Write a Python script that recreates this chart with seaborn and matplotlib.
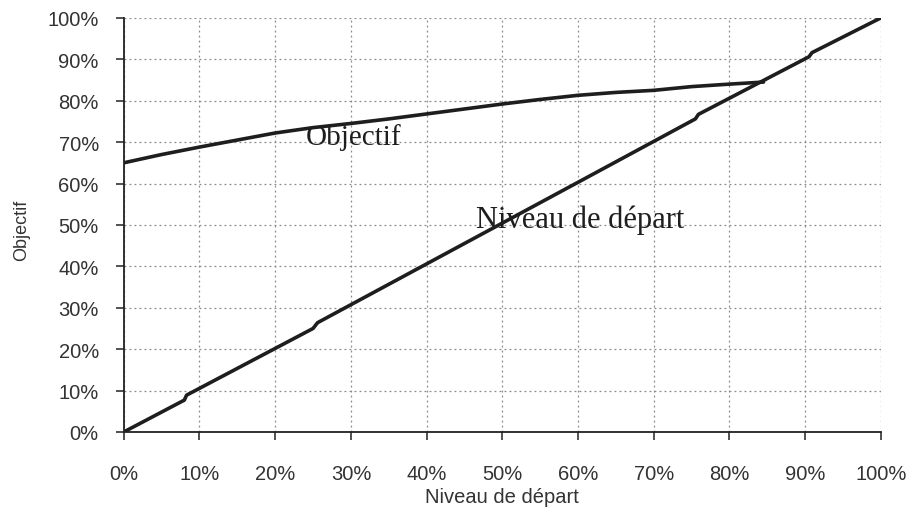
import pandas as pd
import seaborn as sns
import matplotlib.pyplot as plt
from matplotlib.ticker import PercentFormatter

# values (percent)
niveau_x = [0, 8, 8.3, 25, 25.6, 60, 75.5, 75.9, 90.5, 90.9, 100]
niveau_y = [0, 7.7, 8.9, 25, 26.4, 60.3, 75.6, 76.7, 90.6, 91.6, 100]

objectif_x = [0, 5, 10, 15, 20, 25, 30, 35, 40, 45, 50, 55, 60, 65, 70, 75, 80, 84.5]
objectif_y = [65, 67, 68.8, 70.5, 72.2, 73.5, 74.5, 75.6, 76.8, 78, 79.2, 80.3, 81.3, 82, 82.5, 83.4, 84, 84.5]

ticks = list(range(0, 101, 10))

sns.set_style("white")
plt.rcParams['font.family'] = ['Liberation Sans', 'DejaVu Sans']

df_niv = pd.DataFrame({"x": niveau_x, "y": niveau_y})
df_obj = pd.DataFrame({"x": objectif_x, "y": objectif_y})

fig, ax = plt.subplots(figsize=(9.1, 5.1), dpi=100)
fig.subplots_adjust(left=0.136, right=0.968, bottom=0.151, top=0.963)

sns.lineplot(data=df_niv, x="x", y="y", ax=ax, color="#1e1e1e", lw=2.6,
             estimator=None, sort=False)
sns.lineplot(data=df_obj, x="x", y="y", ax=ax, color="#1e1e1e", lw=2.6,
             estimator=None, sort=False)

ax.set_xlim(0, 100)
ax.set_ylim(0, 100)
ax.set_xticks(ticks)
ax.set_yticks(ticks)
ax.xaxis.set_major_formatter(PercentFormatter(decimals=0))
ax.yaxis.set_major_formatter(PercentFormatter(decimals=0))

ax.grid(True, linestyle=(0, (1.5, 2.5)), color="#8a8a8a", lw=0.9)
ax.set_axisbelow(True)

for s in ["top", "right"]:
    ax.spines[s].set_visible(False)
for s in ["left", "bottom"]:
    ax.spines[s].set_color("#222222")
    ax.spines[s].set_linewidth(1.3)

ax.tick_params(axis="x", length=6, width=1.2, pad=17, labelsize=14.5, colors="#333333", direction="out", bottom=True)
ax.tick_params(axis="y", length=6, width=1.2, pad=12, labelsize=14.5, colors="#333333", direction="out", left=True)

ax.set_xlabel("Niveau de départ", fontsize=14.5, color="#333333")
ax.set_ylabel("Objectif", fontsize=13, color="#333333")
ax.xaxis.set_label_coords(0.5, -0.133)
ax.yaxis.set_label_coords(-0.124, 0.49)

ax.text(24, 69.5, "Objectif", family="Liberation Serif", fontsize=21,
        color="#1e1e1e", ha="left", va="baseline")
ax.text(46.5, 49.4, "Niveau de départ", family="Liberation Serif", fontsize=22,
        color="#1e1e1e", ha="left", va="baseline")

plt.savefig("out.png", dpi=100)
